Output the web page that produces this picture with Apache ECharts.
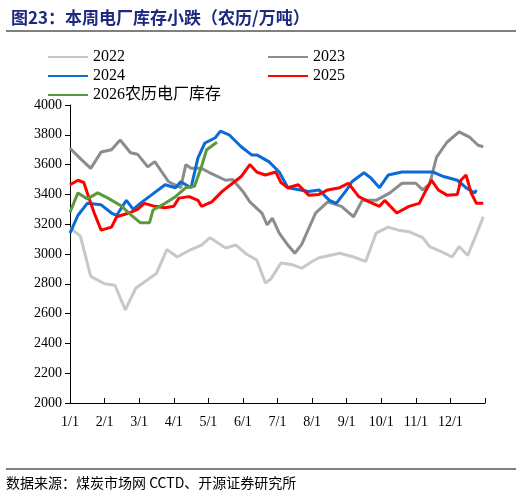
<!DOCTYPE html>
<html><head><meta charset="utf-8">
<script src="https://cdn.jsdelivr.net/npm/echarts@6/dist/echarts.min.js"></script>
<style>body{margin:0}#c{width:522px;height:499px}</style></head>
<body><div id="c"></div>
<script>
// x 单位：月（0 = 1/1）
var monthLabels = ['1/1','2/1','3/1','4/1','5/1','6/1','7/1','8/1','9/1','10/1','11/1','12/1',''];
var d2022 = [[0,3175],[0.3,3120],[0.6,2850],[1.0,2800],[1.3,2790],[1.6,2625],[1.9,2770],[2.2,2820],[2.5,2870],[2.8,3030],[3.1,2980],[3.5,3030],[3.8,3060],[4.05,3110],[4.3,3070],[4.5,3040],[4.8,3060],[5.1,3000],[5.4,2960],[5.65,2805],[5.8,2830],[6.1,2940],[6.4,2930],[6.7,2905],[7.0,2950],[7.2,2975],[7.5,2990],[7.8,3005],[8.2,2980],[8.55,2950],[8.85,3140],[9.2,3180],[9.5,3160],[9.8,3150],[10.2,3110],[10.4,3050],[10.7,3020],[11.05,2980],[11.25,3050],[11.5,2990],[11.65,3075],[11.8,3160],[11.95,3250]];
var d2023 = [[0,3710],[0.3,3640],[0.6,3575],[0.9,3685],[1.2,3700],[1.45,3765],[1.75,3680],[1.95,3670],[2.25,3585],[2.45,3620],[2.85,3485],[3.2,3445],[3.35,3600],[3.5,3575],[3.8,3575],[4.0,3550],[4.5,3495],[4.7,3500],[5.0,3420],[5.2,3350],[5.55,3275],[5.7,3195],[5.85,3240],[6.05,3140],[6.3,3060],[6.5,3005],[6.7,3065],[7.1,3275],[7.45,3350],[7.85,3320],[8.2,3250],[8.45,3360],[8.85,3360],[9.25,3410],[9.6,3475],[10.0,3475],[10.2,3430],[10.4,3470],[10.6,3650],[10.9,3750],[11.25,3820],[11.55,3785],[11.8,3730],[11.95,3720]];
var d2024 = [[0,3140],[0.23,3260],[0.5,3340],[0.9,3330],[1.2,3275],[1.35,3260],[1.63,3360],[1.83,3300],[2.03,3340],[2.35,3395],[2.75,3465],[3.05,3445],[3.2,3485],[3.5,3445],[3.7,3645],[3.9,3745],[4.2,3780],[4.35,3825],[4.6,3800],[4.95,3720],[5.25,3665],[5.4,3665],[5.75,3620],[6.05,3550],[6.3,3445],[6.9,3420],[7.2,3430],[7.5,3360],[7.7,3340],[8.0,3430],[8.15,3485],[8.5,3545],[8.7,3510],[8.95,3445],[9.2,3530],[9.6,3550],[10.1,3550],[10.5,3550],[10.8,3520],[11.2,3495],[11.45,3445],[11.7,3410],[11.75,3430]];
var d2025 = [[0,3465],[0.23,3495],[0.4,3480],[0.5,3410],[0.7,3275],[0.9,3160],[1.2,3180],[1.35,3250],[1.7,3275],[1.95,3300],[2.15,3340],[2.45,3320],[2.75,3310],[3.0,3320],[3.15,3375],[3.45,3385],[3.7,3360],[3.8,3320],[4.1,3350],[4.4,3420],[4.7,3475],[4.95,3520],[5.2,3600],[5.4,3550],[5.65,3530],[5.95,3550],[6.1,3480],[6.3,3445],[6.6,3465],[6.9,3395],[7.2,3400],[7.45,3430],[7.8,3445],[8.05,3475],[8.35,3385],[8.65,3350],[8.95,3320],[9.1,3360],[9.45,3275],[9.8,3320],[10.1,3340],[10.3,3430],[10.45,3495],[10.65,3430],[10.9,3395],[11.2,3400],[11.3,3495],[11.45,3530],[11.6,3410],[11.75,3340],[11.95,3340]];
var d2026 = [[0,3280],[0.23,3410],[0.5,3370],[0.8,3410],[1.1,3375],[1.5,3320],[1.7,3275],[2.03,3210],[2.3,3210],[2.4,3295],[2.75,3340],[3.05,3385],[3.35,3445],[3.6,3455],[3.8,3585],[3.95,3700],[4.25,3750]];
var serif = "'Times New Roman','Liberation Serif','Noto Sans CJK SC'";
var chart = echarts.init(document.getElementById('c'));
function lg(names, top){
  return {data: names, left: 43, top: top, itemGap: 143, itemWidth: 40, itemHeight: 12,
    icon: 'path://M0,5L40,5L40,7L0,7Z', textStyle: {fontFamily: serif, fontSize: 16, color: '#000'}};
}
function s(name, data, color, z){
  return {name: name, type: 'line', data: data, showSymbol: false, symbol: 'none', z: z,
    lineStyle: {color: color, width: 3}, itemStyle: {color: color}};
}
chart.setOption({
  animation: false,
  title: {text: '图23：本周电厂库存小跌（农历/万吨）', left: 6, top: 4,
    textStyle: {fontSize: 17, fontWeight: 'bold', color: '#1c2a80', fontFamily: "'Noto Sans CJK SC'"}},
  graphic: [
    {type: 'line', shape: {x1: 6, y1: 31, x2: 516, y2: 31}, style: {stroke: '#000', lineWidth: 1}},
    {type: 'line', shape: {x1: 6, y1: 469, x2: 516, y2: 469}, style: {stroke: '#000', lineWidth: 1}},
    {type: 'text', left: 6, top: 476, style: {text: '数据来源：煤炭市场网 CCTD、开源证券研究所', fontSize: 14, fill: '#000', fontFamily: "'Noto Sans CJK SC'"}}
  ],
  legend: [lg(['2022','2023'], 44), lg(['2024','2025'], 63), lg(['2026农历电厂库存'], 82)],
  grid: {left: 70, right: 37, top: 105, bottom: 96},
  xAxis: {type: 'value', min: 0, max: 12, interval: 1,
    axisLine: {lineStyle: {color: '#000'}}, axisTick: {inside: true, lineStyle: {color: '#000'}},
    splitLine: {show: false},
    axisLabel: {formatter: function(v){ return monthLabels[Math.round(v)]; }, color: '#000', fontSize: 14, fontFamily: serif, margin: 12}},
  yAxis: {type: 'value', min: 2000, max: 4000, interval: 200,
    axisLine: {show: true, lineStyle: {color: '#000'}}, axisTick: {show: true, lineStyle: {color: '#000'}},
    splitLine: {show: false},
    axisLabel: {formatter: function(v){ return String(v); }, color: '#000', fontSize: 14, fontFamily: serif}},
  series: [
    s('2022', d2022, '#c8c8c8', 1),
    s('2023', d2023, '#8c8c8c', 2),
    s('2024', d2024, '#0b6bd6', 3),
    s('2025', d2025, '#ff0000', 4),
    s('2026农历电厂库存', d2026, '#5b9a3c', 5)
  ]
});
</script></body></html>
